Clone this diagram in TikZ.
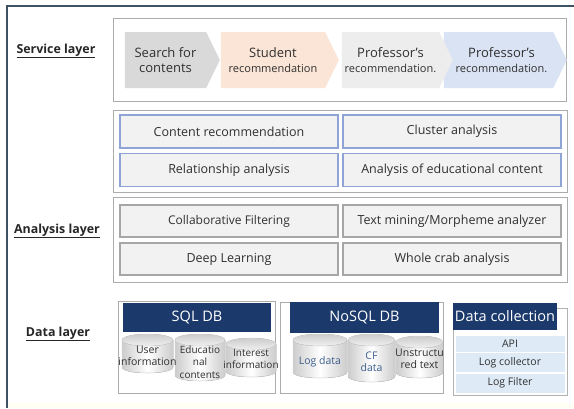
\documentclass[tikz,border=0pt]{standalone}
\usepackage{fontspec}
\setmainfont{Open Sans}
\usetikzlibrary{shapes.symbols}
\definecolor{framec}{HTML}{3E5263}
\definecolor{navy}{HTML}{1B3A6B}
\definecolor{txt}{HTML}{303030}
\definecolor{chevA}{HTML}{D9D9D9}
\definecolor{chevB}{HTML}{FBE5D6}
\definecolor{chevC}{HTML}{EDEDED}
\definecolor{chevD}{HTML}{DAE3F3}
\definecolor{cellblue}{HTML}{8FA3D6}
\definecolor{cellgray}{HTML}{A6A6A6}
\definecolor{cellfill}{HTML}{F2F2F2}
\definecolor{itemfill}{HTML}{DEEBF7}
\definecolor{bluetxt}{HTML}{3D5F8E}
% second line of a chevron caption
\newcommand\subcap{\fontsize{11}{13}\selectfont}
\tikzset{
  panel/.style={draw=gray!65, line width=0.8pt},
  chev/.style={signal, signal to=east, signal pointer angle=128, inner sep=0pt,
    minimum height=56pt, text=txt, align=center, font=\fontsize{13}{15}\selectfont},
  cellA/.style={draw=cellblue, line width=1.2pt, fill=cellfill, minimum width=218pt,
    minimum height=33pt, text=txt, font=\fontsize{12.5}{14}\selectfont, inner sep=0pt},
  cellB/.style={draw=cellgray, line width=1.6pt, fill=cellfill, minimum width=218pt,
    minimum height=32pt, text=txt, font=\fontsize{12.5}{14}\selectfont, inner sep=0pt},
  layerlbl/.style={text=black!85, font=\bfseries\fontsize{12.4}{14}\selectfont},
  dbhead/.style={fill=navy, text=white, inner sep=0pt, font=\fontsize{14.5}{16}\selectfont},
  item/.style={fill=itemfill, draw=white, line width=0.8pt, inner sep=0pt, minimum width=110pt,
    text=txt, font=\fontsize{10.5}{12}\selectfont},
  cyltxt/.style={align=center, inner sep=0pt, font=\fontsize{10.5}{12}\selectfont}
}
% database cylinder: #1 x-left, #2 y-top, #3 x-right, #4 y-bottom
\newcommand\dbcyl[4]{%
  \pgfmathsetmacro\cx{(#1+#3)/2}%
  \pgfmathsetmacro\rx{(#3-#1)/2}%
  \fill[left color=gray!40, right color=gray!40, middle color=white]
    (#1,#2+6) -- (#1,#4-6) .. controls (#1,#4+2) and (#3,#4+2) .. (#3,#4-6) -- (#3,#2+6) -- cycle;
  \draw[gray!35, line width=0.5pt]
    (#1,#2+6) -- (#1,#4-6) .. controls (#1,#4+2) and (#3,#4+2) .. (#3,#4-6) -- (#3,#2+6);
  \fill[top color=gray!40, bottom color=gray!12] (\cx,#2+6) ellipse [x radius=\rx, y radius=6];
  \draw[gray!30, line width=0.5pt] (\cx,#2+6) ellipse [x radius=\rx, y radius=6];
}
\begin{document}
\begin{tikzpicture}[x=1pt,y=-1pt]
\fill[white] (0,0) rectangle (574,408);
\useasboundingbox (0,0) rectangle (574,408);
\fill[yellow!4] (8,403) rectangle (574,408);

% outer frame
\draw[framec, line width=1.2pt] (7,408) -- (7,6) -- (574,6);

% layer captions
\node[layerlbl] (svc) at (56,51) {\underline{Service layer}};
\node[layerlbl] (ana) at (57,231) {\underline{Analysis layer}};
\node[layerlbl] (dat) at (58,334) {\underline{Data layer}};

% ---- service layer ----
\draw[panel] (113,18) rectangle (566,101);
\node[chev, fill=chevA, minimum width=95pt] (s1) at (165.5,60) {Search for\\contents};
\node[chev, fill=chevB, minimum width=118pt] (s2) at (273,60) {Student\\{\subcap recommendation}};
\node[chev, fill=chevD, minimum width=123pt] (s4) at (498.5,60) {\hspace*{6pt}Professor's\\\hspace*{6pt}{\subcap recommendation.}};
\node[chev, fill=chevC, minimum width=111pt] (s3) at (390.5,60) {Professor's\\{\subcap recommendation.}};

% ---- analysis layer ----
\draw[panel] (113,110) rectangle (567,192);
\node[cellA] (a1) at (229,131.5) {Content recommendation};
\node[cellA] (a2) at (452,131.5) {Cluster analysis};
\node[cellA] (a3) at (229,170) {Relationship analysis};
\node[cellA] (a4) at (452,170) {Analysis of educational content};

\draw[panel] (113,197) rectangle (567,282);
\node[cellB, font=\fontsize{12}{14}\selectfont] (b1) at (229,221) {Collaborative Filtering};
\node[cellB] (b2) at (452,221) {Text mining/Morpheme analyzer};
\node[cellB] (b3) at (229,259) {Deep Learning};
\node[cellB] (b4) at (452,259) {Whole crab analysis};

% ---- data layer: SQL DB ----
\draw[panel, line width=0.7pt] (118,301) rectangle (275,393);
\node[dbhead, minimum width=148pt, minimum height=29pt] (sql) at (197,317.5) {SQL DB};
\dbcyl{122}{334}{173}{373}
\dbcyl{175}{334}{225}{381}
\dbcyl{226}{338}{276}{377}
\node[cyltxt, text=txt] (c1) at (147.5,356) {User\\information};
\node[cyltxt, text=txt, font=\fontsize{10}{12.5}\selectfont] (c2) at (200,362) {Educatio\\nal\\contents};
\node[cyltxt, text=txt, font=\fontsize{10}{12}\selectfont] (c3) at (251,359) {Interest\\information};

% ---- data layer: NoSQL DB ----
\draw[panel, line width=0.7pt] (280,302) rectangle (443,393);
\node[dbhead, minimum width=149pt, minimum height=31pt] (nosql) at (364.5,317.5) {NoSQL DB};
\dbcyl{293}{334}{347}{378}
\dbcyl{348}{334}{395}{382}
\dbcyl{396}{336}{443}{378}
\node[cyltxt, text=bluetxt] (c4) at (320,362) {Log data};
\node[cyltxt, text=bluetxt] (c5) at (371.5,362) {CF\\data};
\node[cyltxt, text=txt] (c6) at (419.5,359) {Unstructu\\red text};

% ---- data layer: data collection ----
\draw[gray!60, line width=0.6pt] (453,308) rectangle (567,395);
\node[dbhead, minimum width=104pt, minimum height=27pt] (dc) at (505,316.5) {Data collection};
\node[item, minimum height=17pt] (api) at (510,344) {API};
\node[item, minimum height=20pt] (lc) at (510,362.5) {Log collector};
\node[item, minimum height=20pt] (lf) at (510,383) {Log Filter};
\end{tikzpicture}
\end{document}
